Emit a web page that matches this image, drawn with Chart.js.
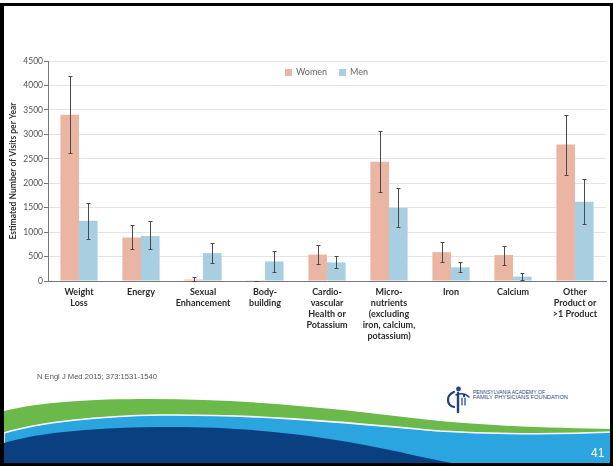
<!DOCTYPE html>
<html>
<head>
<meta charset="utf-8">
<script src="https://cdn.jsdelivr.net/npm/chart.js@4.4.1/dist/chart.umd.min.js"></script>
<style>
  html, body { margin: 0; padding: 0; background: #fff; }
  #slide { position: relative; width: 613px; height: 466px; overflow: hidden; background: #fff; }
  #deco { position: absolute; left: 0; top: 0; }
  #chart { position: absolute; left: 0; top: 0; }
  #frame { position: absolute; left: 0; top: 3px; width: 613px; height: 463px; box-sizing: border-box;
           border-style: solid; border-color: #000; border-width: 3px 3px 3px 4px; pointer-events: none; }
  #cite { position: absolute; left: 37px; top: 372px; font: 7.6px "Liberation Sans", Arial, sans-serif; color: #555; }
  #page { position: absolute; left: 591px; top: 446px; font: 12px "Liberation Sans", Arial, sans-serif; color: #fff; }
</style>
</head>
<body>
<div id="slide">
  <svg id="deco" width="613" height="466" viewBox="0 0 613 466">
    <!-- green swoosh -->
    <path d="M4,411 C40,402 90,399 150,399 C250,399 340,409 430,420 C500,427 560,428 613,429 L613,466 L4,466 Z" fill="#6cb94b"/>
    <!-- light blue swoosh with thin white edge -->
    <path d="M4,433 C40,422 100,416 160,415 C260,414 350,423 440,431 C510,435 570,434 613,432 L613,466 L4,466 Z" fill="#2aa5df" stroke="#ffffff" stroke-width="1.6"/>
    <!-- dark navy swoosh -->
    <path d="M4,443 C40,432 100,427 170,427 C260,427 330,437 400,452 C430,459 455,464 478,468 L4,468 Z" fill="#0b4080"/>
    <!-- foundation logo -->
    <g fill="none" stroke="#1f3f86" stroke-linecap="round">
      <path d="M454,392 C446,395 446,405 454,407" stroke-width="2.2"/>
      <path d="M458,393 L458,412" stroke-width="2.4"/>
      <path d="M462,398 L462,405 M465,398 L465,405" stroke-width="1.2"/>
      <path d="M456,395 C461,393 466,394 469,397" stroke-width="1.4"/>
    </g>
    <circle cx="458.5" cy="389" r="2.4" fill="#1f3f86"/>
    <circle cx="464" cy="396" r="1.2" fill="#1f3f86"/>
    <text x="473" y="393.5" font-family="Liberation Sans, Arial, sans-serif" font-size="5" textLength="72" lengthAdjust="spacingAndGlyphs" fill="#1f3f86">PENNSYLVANIA ACADEMY OF</text>
    <text x="473" y="399" font-family="Liberation Sans, Arial, sans-serif" font-size="5" textLength="95" lengthAdjust="spacingAndGlyphs" fill="#1f3f86">FAMILY PHYSICIANS FOUNDATION</text>
  </svg>
  <canvas id="chart" width="613" height="466"></canvas>
  <div id="cite">N Engl J Med 2015; 373:1531-1540</div>
  <div id="page">41</div>
  <div id="frame"></div>
</div>
<script>
// Supplement-related emergency visits, by product category
const categories = [
  ["Weight", "Loss"],
  ["Energy"],
  ["Sexual", "Enhancement"],
  ["Body-", "building"],
  ["Cardio-", "vascular", "Health or", "Potassium"],
  ["Micro-", "nutrients", "(excluding", "iron, calcium,", "potassium)"],
  ["Iron"],
  ["Calcium"],
  ["Other", "Product or", ">1 Product"]
];
const women     = [3400, 890, 30, 5, 540, 2440, 590, 530, 2790];
const womenLow  = [2620, 650, 0, 0, 340, 1820, 395, 330, 2170];
const womenHigh = [4190, 1140, 85, 10, 745, 3060, 790, 720, 3390];
const men       = [1230, 920, 570, 400, 380, 1500, 280, 90, 1620];
const menLow    = [865, 645, 375, 190, 260, 1105, 180, 30, 1160];
const menHigh   = [1605, 1220, 780, 610, 515, 1905, 390, 160, 2080];
const yTicks    = [0, 500, 1000, 1500, 2000, 2500, 3000, 3500, 4000, 4500];

const intervals = [[womenLow, womenHigh], [menLow, menHigh]];

// 95% confidence interval whiskers drawn on top of each bar
const errorBars = {
  id: 'errorBars',
  afterDatasetsDraw(chart) {
    const { ctx, scales: { y } } = chart;
    ctx.save();
    ctx.strokeStyle = '#4a4a4a';
    ctx.lineWidth = 1;
    chart.data.datasets.forEach((ds, i) => {
      const [lo, hi] = intervals[i];
      chart.getDatasetMeta(i).data.forEach((bar, j) => {
        const x = Math.round(bar.x) + 0.5;
        const yTop = Math.round(y.getPixelForValue(hi[j])) + 0.5;
        const yBot = Math.round(y.getPixelForValue(lo[j])) + 0.5;
        ctx.beginPath();
        ctx.moveTo(x, yTop); ctx.lineTo(x, yBot);
        ctx.moveTo(x - 2, yTop); ctx.lineTo(x + 2, yTop);
        ctx.moveTo(x - 2, yBot); ctx.lineTo(x + 2, yBot);
        ctx.stroke();
      });
    });
    ctx.restore();
  }
};

// Compact legend centred inside the top of the plot area
const insideLegend = {
  id: 'insideLegend',
  afterDraw(chart) {
    const { ctx, chartArea } = chart;
    const box = 7, gapText = 4, gapItem = 12;
    ctx.save();
    ctx.font = '9px Lato';
    ctx.textBaseline = 'middle';
    const items = chart.data.datasets.map(ds => ({ text: ds.label, color: ds.backgroundColor, w: ctx.measureText(ds.label).width }));
    const total = items.reduce((s, it) => s + box + gapText + it.w, 0) + gapItem * (items.length - 1);
    let x = Math.round((chartArea.left + chartArea.right) / 2 - total / 2);
    const cy = chartArea.top + 11.5;
    items.forEach(it => {
      ctx.fillStyle = it.color;
      ctx.fillRect(x, Math.round(cy - box / 2), box, box);
      x += box + gapText;
      ctx.fillStyle = '#666';
      ctx.fillText(it.text, x, cy);
      x += it.w + gapItem;
    });
    ctx.restore();
  }
};

new Chart(document.getElementById('chart'), {
  type: 'bar',
  data: {
    labels: categories,
    datasets: [
      { label: 'Women', data: women, backgroundColor: '#eab5a2', borderWidth: 0 },
      { label: 'Men', data: men, backgroundColor: '#a8cfe1', borderWidth: 0 }
    ]
  },
  options: {
    responsive: false,
    animation: false,
    devicePixelRatio: 1,
    layout: { padding: { left: 4, right: 7, top: 61, bottom: 0 } },
    datasets: { bar: { categoryPercentage: 0.6, barPercentage: 1.0 } },
    plugins: {
      tooltip: { enabled: false },
      legend: { display: false }
    },
    scales: {
      x: {
        grid: { display: false, drawTicks: false },
        border: { display: true, color: '#777', width: 1 },
        ticks: {
          autoSkip: false, maxRotation: 0, minRotation: 0, padding: 6,
          color: '#2b2b2b',
          font: { family: 'Lato', size: 9, weight: 'bold', lineHeight: 1.22 }
        },
        afterFit(s) { s.height = 185; }
      },
      y: {
        min: 0, max: 4500,
        afterBuildTicks(s) { s.ticks = yTicks.map(v => ({ value: v })); },
        grid: { color: '#e4e4e4', tickColor: '#777', tickLength: 4, lineWidth: 1 },
        border: { display: true, color: '#777', width: 1 },
        ticks: {
          padding: 1, color: '#555', font: { family: 'Lato', size: 8.5 },
          callback: (v) => String(v)
        },
        title: {
          display: true, text: 'Estimated Number of Visits per Year',
          color: '#333', padding: { top: 4, bottom: 0 },
          font: { family: 'Lato', size: 8.5, weight: 'bold' }
        },
        afterFit(s) { s.width = 44; }
      }
    }
  },
  plugins: [errorBars, insideLegend]
});
</script>
</body>
</html>
